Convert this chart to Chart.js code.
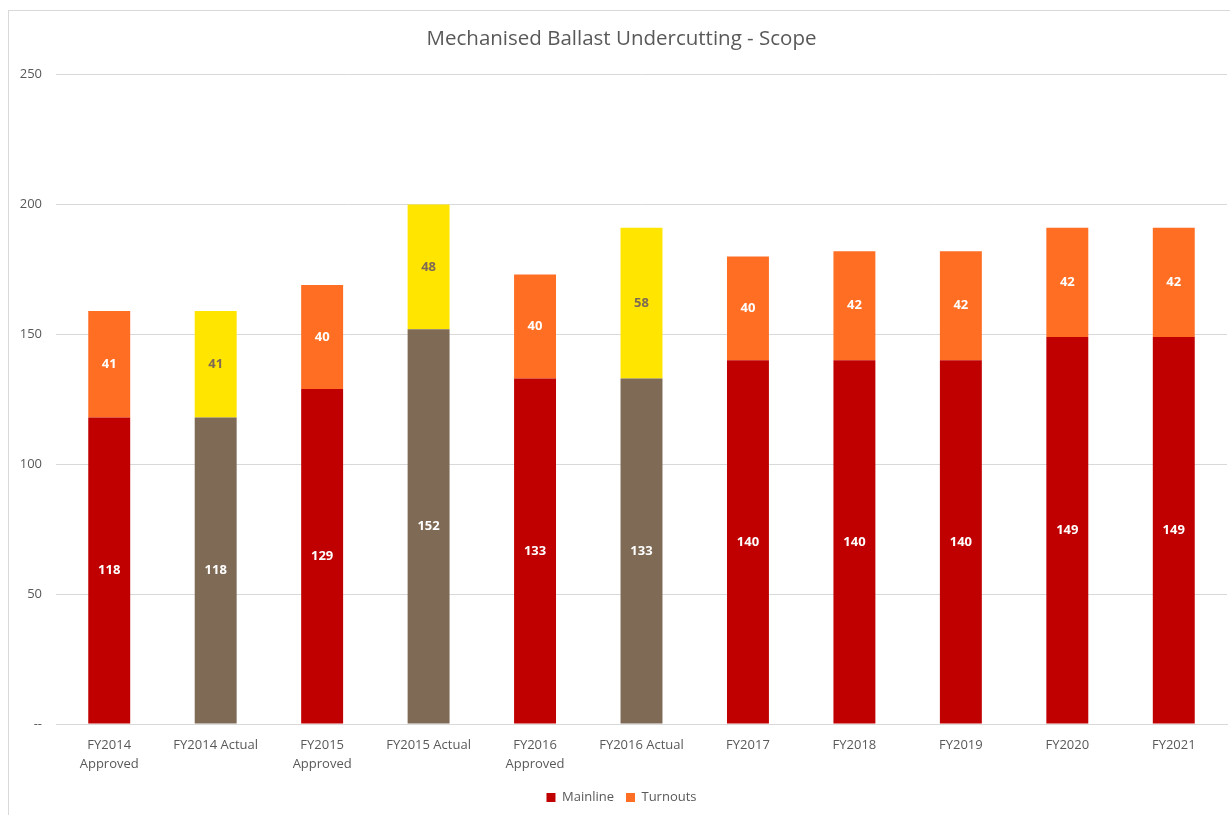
<!DOCTYPE html>
<html>
<head>
<meta charset="utf-8">
<script src="https://cdn.jsdelivr.net/npm/chart.js@4"></script>
<style>
  html, body { margin: 0; padding: 0; background: #ffffff; }
  #wrap { position: relative; width: 1230px; height: 815px; overflow: hidden; }
  #frame { position: absolute; left: 8px; top: 10px; width: 1240px; height: 830px; border: 1px solid #d9d9d9; pointer-events: none; }
  canvas { position: absolute; left: 0; top: 0; }
</style>
</head>
<body>
<div id="wrap">
  <canvas id="c" width="1230" height="815"></canvas>
  <div id="frame"></div>
</div>
<script>
const categories = [["FY2014", "Approved"], "FY2014 Actual", ["FY2015", "Approved"], "FY2015 Actual", ["FY2016", "Approved"], "FY2016 Actual", "FY2017", "FY2018", "FY2019", "FY2020", "FY2021"];
const mainline = [118, 118, 129, 152, 133, 133, 140, 140, 140, 149, 149];
const turnouts = [41, 41, 40, 48, 40, 58, 40, 42, 42, 42, 42];
const isActual = [false, true, false, true, false, true, false, false, false, false, false];
const yTicks = [0, 50, 100, 150, 200, 250];

const RED = '#C00000', ORANGE = '#FF6E23', BROWN = '#7F6B55', YELLOW = '#FFE500';
const mainColors = isActual.map(a => a ? BROWN : RED);
const turnColors = isActual.map(a => a ? YELLOW : ORANGE);
const mainLabelColors = isActual.map(() => '#ffffff');
const turnLabelColors = isActual.map(a => a ? '#7F6B55' : '#ffffff');

const FONT = '"Open Sans", "Liberation Sans", sans-serif';

const labelPlugin = {
  id: 'barLabels',
  afterDatasetsDraw(chart) {
    const ctx = chart.ctx;
    ctx.save();
    ctx.font = 'bold 13px ' + FONT;
    ctx.textAlign = 'center';
    ctx.textBaseline = 'middle';
    chart.data.datasets.forEach((ds, di) => {
      const meta = chart.getDatasetMeta(di);
      meta.data.forEach((el, i) => {
        const v = ds.data[i];
        ctx.fillStyle = ds.labelColors[i];
        ctx.fillText(String(v), el.x, (el.y + el.base) / 2);
      });
    });
    ctx.restore();
  }
};

new Chart(document.getElementById('c'), {
  type: 'bar',
  data: {
    labels: categories,
    datasets: [
      { label: 'Mainline', data: mainline, backgroundColor: mainColors, labelColors: mainLabelColors, legendColor: RED },
      { label: 'Turnouts', data: turnouts, backgroundColor: turnColors, labelColors: turnLabelColors, legendColor: ORANGE }
    ]
  },
  options: {
    responsive: false,
    animation: false,
    devicePixelRatio: 1,
    datasets: { bar: { categoryPercentage: 1, barPercentage: 0.394, borderWidth: 0 } },
    layout: { padding: { left: 16, right: 3, top: 0, bottom: 1 } },
    plugins: {
      tooltip: { enabled: false },
      title: {
        display: true,
        text: 'Mechanised Ballast Undercutting - Scope',
        color: '#595959',
        font: { family: FONT, size: 20.5, weight: 'normal' },
        padding: { top: 27, bottom: 23 }
      },
      legend: {
        display: true,
        position: 'bottom',
        labels: {
          color: '#595959',
          font: { family: FONT, size: 13 },
          boxWidth: 9,
          boxHeight: 9,
          padding: 12,
          generateLabels(chart) {
            return chart.data.datasets.map((ds, i) => ({
              text: ds.label, fillStyle: ds.legendColor, strokeStyle: ds.legendColor,
              lineWidth: 0, hidden: false, datasetIndex: i, fontColor: '#595959'
            }));
          }
        }
      }
    },
    scales: {
      x: {
        stacked: true,
        grid: { display: false, drawTicks: false },
        border: { display: true, color: '#d9d9d9' },
        ticks: { color: '#595959', font: { family: FONT, size: 13, lineHeight: 1.45 }, padding: 12, maxRotation: 0, autoSkip: false },
        afterFit(scale) { scale.height = 55; }
      },
      y: {
        stacked: true,
        min: 0,
        max: 250,
        afterBuildTicks(scale) { scale.ticks = yTicks.map(v => ({ value: v })); },
        grid: { color: '#d9d9d9', drawTicks: false },
        border: { display: false },
        ticks: {
          color: '#595959',
          font: { family: FONT, size: 13 },
          padding: 14,
          callback(v) { return v === 0 ? '--' : String(v); }
        },
        afterFit(scale) { scale.width = 40; }
      }
    }
  },
  plugins: [labelPlugin]
});
</script>
</body>
</html>
